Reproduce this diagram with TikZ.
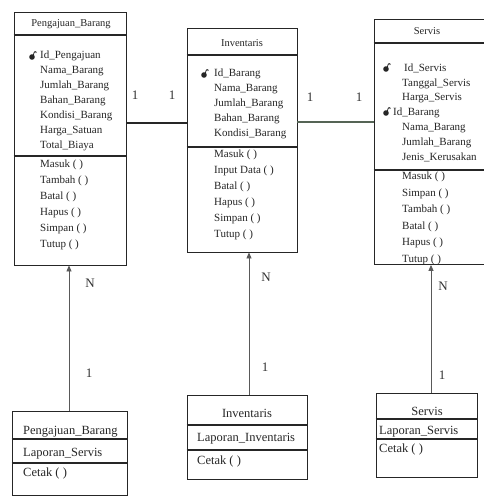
\documentclass[tikz,border=0pt]{standalone}
\usepackage{fontspec}
\setmainfont{Liberation Serif}
\usetikzlibrary{arrows.meta,fit}
\definecolor{linkgreen}{RGB}{85,100,85}
\begin{document}
\begin{tikzpicture}[x=1pt,y=-1pt,
  box/.style={draw=black!85, line width=0.8pt, inner sep=0pt},
  sepline/.style={draw=black!85, line width=1.2pt},
  txt/.style={anchor=base west, inner sep=0pt, text=black!85, font=\fontsize{11}{12}\selectfont},
  ttl/.style={anchor=base, inner sep=0pt, text=black!85, font=\fontsize{10.5}{12}\selectfont},
  btxt/.style={anchor=base west, inner sep=0pt, text=black!85, font=\fontsize{12.5}{14}\selectfont},
  bttl/.style={anchor=base, inner sep=0pt, text=black!85, font=\fontsize{12.5}{14}\selectfont},
  lbl/.style={inner sep=0pt, text=black!80, font=\fontsize{13}{14}\selectfont},
  link/.style={draw=black!85, line width=1.1pt},
  dep/.style={draw=black!65, line width=0.8pt, -{Triangle[length=6pt,width=5pt]}},
  keyicon/.pic={\fill[black!85] (0,0) circle (2.8pt);
    \draw[black!85, line width=0.8pt] (1.4,-1.8) .. controls (1.8,-6) and (4.2,-6.5) .. (4.2,-4);}
]
\useasboundingbox[fill=white] (0,0) rectangle (483,500);

% ---------- Box A : Pengajuan_Barang ----------
\node[box, fit={(14,12) (126,265)}] (A) {};
\draw[sepline] (A.west |- 0,35) -- (A.east |- 0,35);
\draw[sepline] (A.west |- 0,156) -- (A.east |- 0,156);
\node[ttl] (At) at (71,26.5) {Pengajuan\_Barang};
\pic at (32,57) {keyicon};
\foreach \t [count=\i from 0] in {Id\_Pengajuan,Nama\_Barang,Jumlah\_Barang,Bahan\_Barang,Kondisi\_Barang,Harga\_Satuan,Total\_Biaya}
  \node[txt] (Aa\i) at (40,{58.5+15*\i}) {\t};
\foreach \t [count=\i from 0] in {Masuk ( ),Tambah ( ),Batal ( ),Hapus ( ),Simpan ( ),Tutup ( )}
  \node[txt] (Am\i) at (40,{167+16*\i}) {\t};

% ---------- Box B : Inventaris ----------
\node[box, fit={(187,28) (297,252)}] (B) {};
\draw[sepline] (B.west |- 0,55) -- (B.east |- 0,55);
\draw[sepline] (B.west |- 0,147) -- (B.east |- 0,147);
\node[ttl] (Bt) at (242,46.5) {Inventaris};
\pic at (204,75) {keyicon};
\foreach \t [count=\i from 0] in {Id\_Barang,Nama\_Barang,Jumlah\_Barang,Bahan\_Barang,Kondisi\_Barang}
  \node[txt] (Ba\i) at (214,{76.5+15*\i}) {\t};
\foreach \t [count=\i from 0] in {Masuk ( ),Input Data ( ),Batal ( ),Hapus ( ),Simpan ( ),Tutup ( )}
  \node[txt] (Bm\i) at (214,{157.5+16*\i}) {\t};

% ---------- Box C : Servis ----------
\node[box, fit={(374,19) (492,264.5)}] (C) {};
\draw[sepline] (C.west |- 0,43) -- (C.east |- 0,43);
\draw[sepline] (C.west |- 0,170) -- (C.east |- 0,170);
\node[ttl] (Ct) at (427,34.5) {Servis};
\pic at (386,69) {keyicon};
\pic at (386,113) {keyicon};
\node[txt] (Ca0) at (404,71.5) {Id\_Servis};
\node[txt] (Ca1) at (402,86.5) {Tanggal\_Servis};
\node[txt] (Ca2) at (402,100.5) {Harga\_Servis};
\node[txt] (Ca3) at (393,115.5) {Id\_Barang};
\node[txt] (Ca4) at (402,130.5) {Nama\_Barang};
\node[txt] (Ca5) at (402,145.5) {Jumlah\_Barang};
\node[txt] (Ca6) at (402,160.5) {Jenis\_Kerusakan};
\begin{scope}
  \clip (374,171) rectangle (483,263.5);
  \foreach \t [count=\i from 0] in {Masuk ( ),Simpan ( ),Tambah ( ),Batal ( ),Hapus ( ),Tutup ( )}
    \node[txt] (Cm\i) at (402,{179.5+16.5*\i}) {\t};
\end{scope}

% ---------- Box D ----------
\node[box, fit={(12,411) (127,495)}] (D) {};
\draw[sepline] (D.west |- 0,439) -- (D.east |- 0,439);
\draw[sepline] (D.west |- 0,463) -- (D.east |- 0,463);
\node[btxt] (Dt) at (23,434) {Pengajuan\_Barang};
\node[btxt] (Da) at (23,456) {Laporan\_Servis};
\node[btxt] (Dm) at (23,476) {Cetak ( )};

% ---------- Box E ----------
\node[box, fit={(187,395) (307,479)}] (E) {};
\draw[sepline] (E.west |- 0,425) -- (E.east |- 0,425);
\draw[sepline] (E.west |- 0,450) -- (E.east |- 0,450);
\node[bttl] (Et) at (247,417) {Inventaris};
\node[btxt] (Ea) at (197,441) {Laporan\_Inventaris};
\node[btxt] (Em) at (197,464) {Cetak ( )};

% ---------- Box F ----------
\node[box, fit={(376,393) (477,477)}] (F) {};
\draw[sepline] (F.west |- 0,419) -- (F.east |- 0,419);
\draw[sepline] (F.west |- 0,439) -- (F.east |- 0,439);
\node[bttl] (Ft) at (427,415) {Servis};
\node[btxt] (Fa) at (379,434) {Laporan\_Servis};
\node[btxt] (Fm) at (379,452.5) {Cetak ( )};

% ---------- Associations ----------
\coordinate (ab) at (0,123);
\draw[link] (A.east |- ab) -- (B.west |- ab);
\coordinate (bc) at (0,122);
\draw[link, draw=linkgreen] (B.east |- bc) -- (C.west |- bc);
\node[lbl] (l1) at (135,95) {1};
\node[lbl] (l2) at (172,95) {1};
\node[lbl] (l3) at (310,97) {1};
\node[lbl] (l4) at (359,97) {1};

% ---------- Dependencies ----------
\coordinate (va) at (69,0);
\draw[dep] (D.north -| va) -- (A.south -| va);
\node[lbl] (nA) at (90,283) {N};
\node[lbl] (oA) at (89,373) {1};
\coordinate (vb) at (249,0);
\draw[dep] (E.north -| vb) -- (B.south -| vb);
\node[lbl] (nB) at (266,277) {N};
\node[lbl] (oB) at (265,367) {1};
\coordinate (vc) at (431,0);
\draw[dep] (F.north -| vc) -- (C.south -| vc);
\node[lbl] (nC) at (443,286) {N};
\node[lbl] (oC) at (442,375) {1};
\end{tikzpicture}
\end{document}
